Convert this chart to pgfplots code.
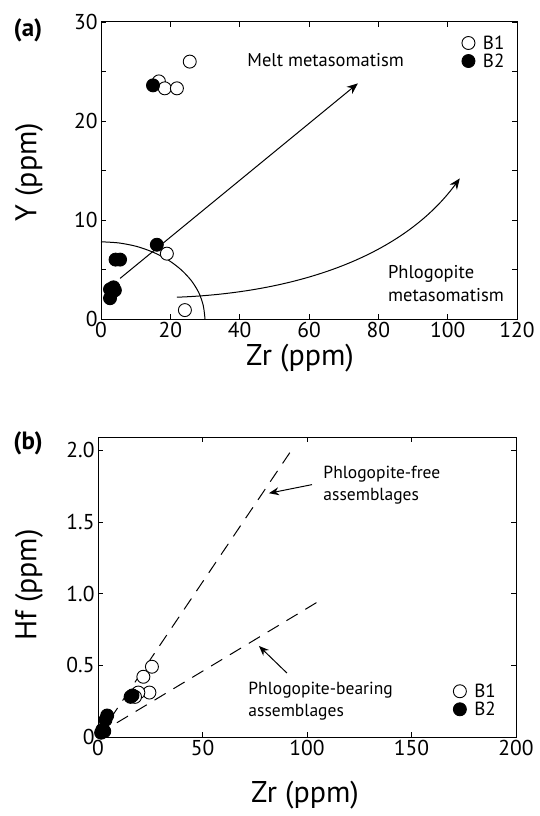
\documentclass[border=0pt]{standalone}
\usepackage{pgfplots}
\pgfplotsset{compat=1.18}
\usepackage{fontspec}
\setmainfont{PT Sans}
\usetikzlibrary{arrows.meta}
\begin{document}
\begin{tikzpicture}
\useasboundingbox (0pt,0pt) rectangle (539pt,-816pt);
\pgfplotsset{
  common/.style={
    scale only axis, clip=false,
    tick align=inside, major tick length=5pt, minor tick length=5pt,
    axis line style={line width=1pt},
    every tick/.style={line width=0.8pt, black},
    /pgf/number format/assume math mode=true,
    ticklabel style={font=\fontsize{21.5}{21.5}\selectfont},
    legend style={draw=none, fill=none, font=\fontsize{19}{19}\selectfont, row sep=-1pt, inner sep=0pt,
      /tikz/every odd column/.append style={column sep=6pt}},
    legend cell align=left,
  },
  B1/.style={only marks, mark=*, mark size=6.5pt, mark options={fill=white, draw=black, line width=0.9pt}},
  B2/.style={only marks, mark=*, mark size=6.5pt, mark options={fill=black, draw=black, line width=0.9pt}},
}
% ---------- panel (a)
\begin{axis}[common,
  at={(101pt,-22pt)}, anchor=north west, width=416pt, height=297pt,
  xmin=0, xmax=120, ymin=0, ymax=30,
  xtick={0,20,40,60,80,100,120}, xticklabels={0,20,40,60,80,100,120},
  ytick={0,10,20,30}, yticklabels={0,10,20,30},
  minor ytick={5,15,25},
  legend style={at={(0.975,0.962)}, anchor=north east},
]
\addplot[B1] coordinates {(25.6,26.0) (16.7,24.0) (18.4,23.3) (21.9,23.3) (19.0,6.6) (24.2,0.9)};
\addlegendentry{B1}
\addplot[B2] coordinates {(15.0,23.6) (16.1,7.5) (4.2,6.0) (5.5,6.0) (2.6,3.0) (3.6,3.2) (4.0,2.9) (2.6,2.1)};
\addlegendentry{B2}
\addplot[line width=1pt, smooth, forget plot] coordinates {(30,0) (29.5,1.36) (28.2,2.67) (26.0,3.9) (23.0,5.01) (19.3,5.98) (15,6.75) (10.3,7.33) (5.2,7.68) (0,7.8)};
\draw[line width=1pt, -{Stealth[length=11pt,width=9pt]}] (axis cs:5.5,4.1) -- (axis cs:74.1,23.8);
\draw[line width=1pt, -{Stealth[length=11pt,width=9pt]}] (axis cs:21.9,2.2) .. controls (axis cs:54.5,2.63) and (axis cs:86.2,5.96) .. (axis cs:103.5,14.2);
\node[font=\fontsize{18.5}{18.5}\selectfont] at (axis cs:64.8,26.2) {Melt metasomatism};
\node[anchor=west, align=left, font=\fontsize{18.5}{23}\selectfont] at (axis cs:81.8,3.6) {Phlogopite\\metasomatism};
\end{axis}
\node[font=\bfseries\fontsize{25}{25}\selectfont] at (28pt,-30pt) {(a)};
\node[rotate=90, font=\fontsize{30}{30}\selectfont] at (29pt,-172pt) {Y (ppm)};
\node[font=\fontsize{30}{30}\selectfont] at (300pt,-358pt) {Zr (ppm)};
% ---------- panel (b)
\begin{axis}[common,
  at={(98pt,-437pt)}, anchor=north west, width=418pt, height=300pt,
  xmin=0, xmax=200, ymin=0, ymax=2.092,
  xtick={0,50,100,150,200}, xticklabels={0,50,100,150,200},
  ytick={0,0.5,1,1.5,2}, yticklabels={0,0.5,1.0,1.5,2.0},
  legend style={at={(0.957,0.06)}, anchor=south east},
]
\addplot[B1] coordinates {(25.8,0.49) (21.7,0.42) (24.6,0.31) (19.3,0.31) (17.7,0.28)};
\addlegendentry{B1}
\addplot[B2] coordinates {(15.6,0.28) (16.5,0.29) (4.4,0.15) (3.6,0.12) (2.1,0.05) (1.5,0.03) (3.0,0.04)};
\addlegendentry{B2}
\addplot[line width=1pt, dash pattern=on 13pt off 9pt, forget plot] coordinates {(0,0) (93.5,2.02)};
\addplot[line width=1pt, dash pattern=on 13pt off 9pt, forget plot] coordinates {(0,0.02) (106,0.95)};
\draw[line width=1pt, -{Stealth[length=10pt,width=8pt]}] (axis cs:102.4,1.76) -- (axis cs:81.8,1.70);
\draw[line width=1pt, -{Stealth[length=10pt,width=8pt]}] (axis cs:90.4,0.446) -- (axis cs:77,0.635);
\node[anchor=west, align=left, font=\fontsize{17.5}{22}\selectfont] at (axis cs:106.2,1.757) {Phlogopite-free\\assemblages};
\node[anchor=west, align=left, font=\fontsize{17.5}{22}\selectfont] at (axis cs:70.3,0.248) {Phlogopite-bearing\\assemblages};
\end{axis}
\node[font=\bfseries\fontsize{25}{25}\selectfont] at (28pt,-443pt) {(b)};
\node[rotate=90, font=\fontsize{30}{30}\selectfont] at (29pt,-585pt) {Hf (ppm)};
\node[font=\fontsize{30}{30}\selectfont] at (305pt,-795pt) {Zr (ppm)};
\end{tikzpicture}
\end{document}
